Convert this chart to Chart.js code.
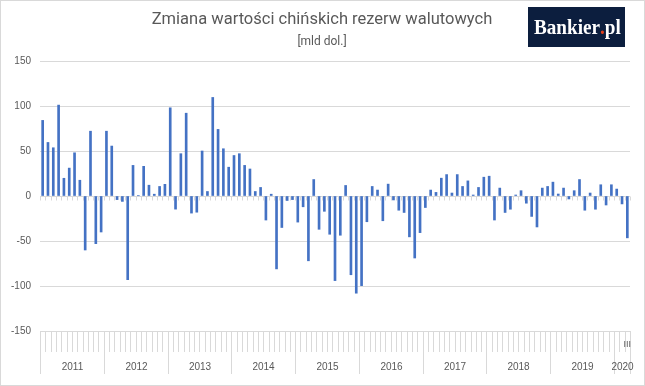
<!DOCTYPE html>
<html lang="pl">
<head>
  <meta charset="UTF-8">
  <title>Zmiana wartości chińskich rezerw walutowych</title>
  <script src="https://cdn.jsdelivr.net/npm/chart.js"></script>
  <style>
    html, body { margin: 0; padding: 0; background: #fff; }
    #wrap { position: relative; width: 645px; height: 386px; }
  </style>
</head>
<body>
  <div id="wrap"><canvas id="wykres"></canvas></div>

  <script>
    // Dane: zmiana rezerw walutowych Chin, mld USD, miesięcznie
    const lata = ['2011', '2012', '2013', '2014', '2015', '2016', '2017', '2018', '2019', '2020'];
    const miesiace = ['I', 'II', 'III', 'IV', 'V', 'VI', 'VII', 'VIII', 'IX', 'X', 'XI', 'XII'];

    const r2011 = [84, 59.5, 53.6, 101, 19.7, 31, 48, 17.5, -60, 72, -53, -40];
    const r2012 = [72, 55.5, -4, -6, -93, 34, 0.5, 33, 12, 2, 10.6, 13];
    const r2013 = [98, -14.6, 47, 92, -19, -18, 50, 5, 109.5, 74, 52.5, 32];
    const r2014 = [45, 47, 34, 30, 5, 9.5, -26.7, 2, -81, -35, -5, -4];
    const r2015 = [-29, -12, -72, 18.3, -37, -17, -42.5, -94, -43.6, 11.7, -87.5, -108];
    const r2016 = [-99.6, -28.6, 10.6, 6.6, -27.5, 13.2, -4.4, -15.8, -18.3, -45.4, -68.9, -40.7];
    const r2017 = [-12.8, 6.6, 4, 19.8, 23.8, 3.3, 23.8, 10.6, 16.8, 1.1, 9.5, 20.9];
    const r2018 = [22, -26.7, 8.8, -18.3, -14.7, 1.1, 5.9, -8, -22.7, -34.4, 8.8, 10.6];
    const r2019 = [15.4, 2.2, 8.8, -3.3, 5.9, 18.3, -15.8, 3.3, -14.7, 12.5, -10, 12.5];
    const r2020 = [7.7, -8.8, -46.5];

    const roczne = [r2011, r2012, r2013, r2014, r2015, r2016, r2017, r2018, r2019, r2020];
    const wartosci = [].concat(...roczne);

    const etykiety = [];
    roczne.forEach((r, i) => r.forEach((v, m) => etykiety.push(miesiace[m] + ' ' + lata[i])));

    const szary = '#595959';
    const linia = '#d9d9d9';

    // osie kategorii na dole, tytuł, logo
    const dodatki = {
      id: 'dodatki',
      beforeDatasetsDraw(chart) {
        const { ctx, chartArea: a, scales: { x, y } } = chart;
        const krok = x.getPixelForValue(1) - x.getPixelForValue(0);
        const granica = i => Math.round(x.getPixelForValue(i) - krok / 2) + 0.5;
        const y0 = Math.round(y.getPixelForValue(0)) + 0.5;

        ctx.save();
        ctx.strokeStyle = linia;
        ctx.lineWidth = 1;
        ctx.beginPath();
        for (let i = 0; i <= wartosci.length; i++) {
          const px = granica(i);
          ctx.moveTo(px, y0); ctx.lineTo(px, y0 + 4);
          ctx.moveTo(px, a.bottom); ctx.lineTo(px, a.bottom + 21);
        }
        // granice lat
        let start = 0;
        const srodki = [];
        roczne.forEach(r => {
          const px = granica(start);
          ctx.moveTo(px, a.bottom); ctx.lineTo(px, a.bottom + 43);
          srodki.push((granica(start) + granica(start + r.length)) / 2);
          start += r.length;
        });
        ctx.moveTo(granica(start), a.bottom); ctx.lineTo(granica(start), a.bottom + 43);
        ctx.stroke();

        ctx.fillStyle = szary;
        ctx.textAlign = 'center';
        ctx.textBaseline = 'middle';
        ctx.font = '10px "Liberation Sans", Arial, sans-serif';
        lata.forEach((l, i) => ctx.fillText(l, srodki[i], a.bottom + 36));
        // tylko ostatni miesiąc jest podpisany
        const ost = wartosci.length - 1;
        ctx.font = '9px "Liberation Sans", Arial, sans-serif';
        ctx.fillText(miesiace[r2020.length - 1], x.getPixelForValue(ost), a.bottom + 14);
        ctx.restore();
      },
      afterDraw(chart) {
        const { ctx, width, height } = chart;
        ctx.save();
        ctx.fillStyle = szary;
        ctx.textAlign = 'center';
        ctx.textBaseline = 'middle';
        ctx.font = '16.5px Roboto, sans-serif';
        ctx.fillText('Zmiana wartości chińskich rezerw walutowych', 322, 20);
        ctx.font = '12px Roboto, sans-serif';
        ctx.fillText('[mld dol.]', 322, 42);

        // logo - napis ściśnięty do szerokości ramki
        ctx.fillStyle = '#0c1e3e';
        ctx.fillRect(528, 7, 97, 40);
        ctx.font = 'bold 22px "Liberation Serif", "DejaVu Serif", serif';
        ctx.textAlign = 'left';
        ctx.textBaseline = 'alphabetic';
        const calosc = ctx.measureText('Bankier.pl').width;
        ctx.translate(534, 34);
        ctx.scale(85 / calosc, 1);
        let px = 0;
        ctx.fillStyle = '#ffffff';
        ctx.fillText('Bankier', px, 0);
        px += ctx.measureText('Bankier').width;
        ctx.fillStyle = '#e2401c';
        ctx.fillText('.', px, 0);
        px += ctx.measureText('.').width;
        ctx.fillStyle = '#ffffff';
        ctx.fillText('pl', px, 0);
        ctx.setTransform(1, 0, 0, 1, 0, 0);

        // ramka
        ctx.strokeStyle = linia;
        ctx.lineWidth = 1;
        ctx.strokeRect(0.5, 0.5, width - 1, height - 1);
        ctx.restore();
      }
    };

    new Chart(document.getElementById('wykres'), {
      type: 'bar',
      data: {
        labels: etykiety,
        datasets: [{
          data: wartosci,
          backgroundColor: '#4472c4',
          barThickness: 2
        }]
      },
      options: {
        responsive: true,
        maintainAspectRatio: false,
        animation: false,
        layout: { padding: { left: 0, right: 15, top: 61, bottom: 55 } },
        plugins: {
          legend: { display: false },
          tooltip: { enabled: false }
        },
        scales: {
          x: { display: false },
          y: {
            min: -150,
            max: 150,
            afterFit: s => { s.width = 40; },
            border: { display: false },
            grid: { color: linia, drawTicks: false },
            ticks: {
              stepSize: 50,
              padding: 9,
              color: szary,
              font: { family: '"Liberation Sans", Arial, sans-serif', size: 10 }
            }
          }
        }
      },
      plugins: [dodatki]
    });
  </script>
</body>
</html>
